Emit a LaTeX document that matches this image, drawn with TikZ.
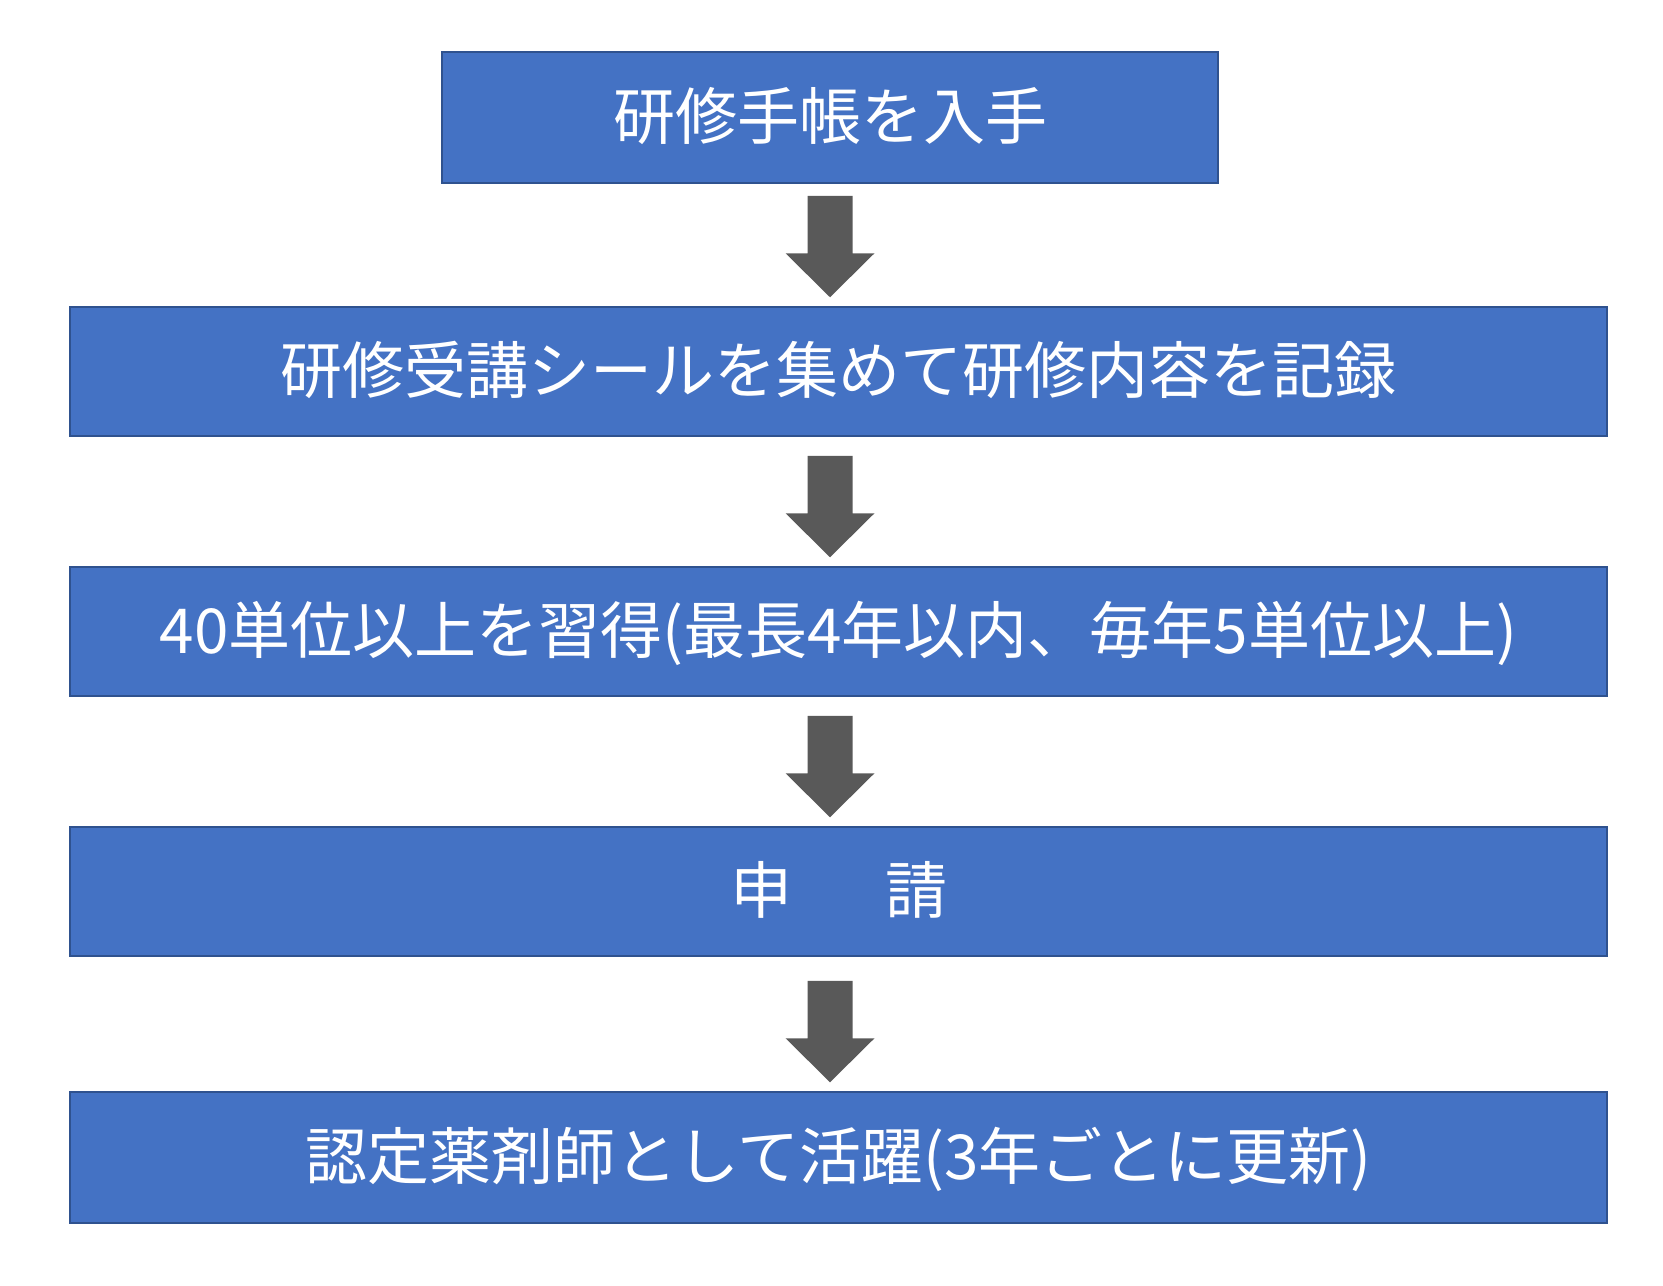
\documentclass[tikz,border=0pt]{standalone}
\usepackage{fontspec}
\setmainfont{Noto Sans CJK JP}
\usetikzlibrary{calc}
\definecolor{boxblue}{HTML}{4472C4}
\definecolor{boxedge}{HTML}{2F528F}
\definecolor{arrowgray}{HTML}{595959}
\newcommand{\flowarrow}[2]{%
	\fill[arrowgray] let \p1=(#1.south -| s1.south), \p2=($(#2.north)+(0,-9)$) in
		(\x1-11.25pt,\y2+50.75pt) -- (\x1+11.25pt,\y2+50.75pt) -- (\x1+11.25pt,\y2+22pt) -- (\x1+22.25pt,\y2+22pt)
		-- (\x1,\y2) -- (\x1-22.25pt,\y2+22pt) -- (\x1-11.25pt,\y2+22pt) -- cycle;}
\begin{document}
\begin{tikzpicture}[x=0.5pt,y=-0.5pt,
		flowbox/.style={draw=boxedge, line width=0.75pt, fill=boxblue, text=white, inner sep=0pt,
			font=\fontsize{31pt}{37pt}\selectfont, text height=26.5pt, text depth=4.5pt,
			minimum width=768.5pt, minimum height=64.5pt}]
		\useasboundingbox (0,0) rectangle (1663,1285);
		\node[flowbox, minimum width=388pt, minimum height=65.5pt] (s1) at (830,117.5) {研修手帳を入手};
		\node[flowbox] (s2) at (838.5,371.5) {研修受講シールを集めて研修内容を記録};
		\node[flowbox] (s3) at (838.5,631.5) {40単位以上を習得(最長4年以内、毎年5単位以上)};
		\node[flowbox] (s4) at (838.5,891.5) {申\hspace{1.5em}請};
		\node[flowbox, minimum height=65.5pt] (s5) at (838.5,1157.5) {認定薬剤師として活躍(3年ごとに更新)};
		\foreach \a/\b in {s1/s2,s2/s3,s3/s4,s4/s5} \flowarrow{\a}{\b};
	\end{tikzpicture}
\end{document}
